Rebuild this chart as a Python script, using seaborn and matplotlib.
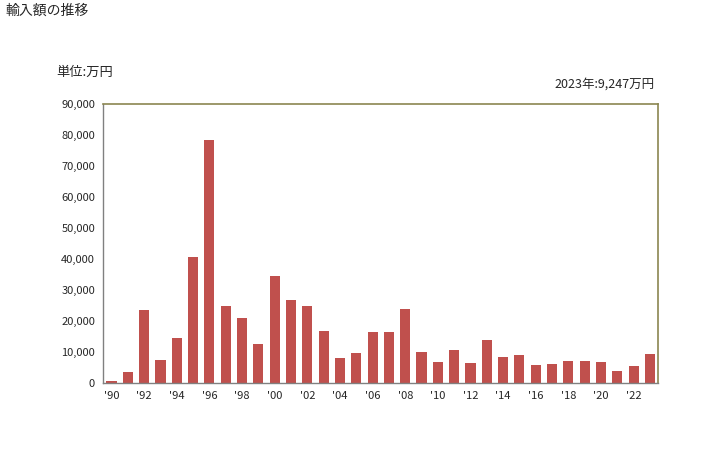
import matplotlib
matplotlib.use("Agg")
import matplotlib.pyplot as plt
import seaborn as sns
import pandas as pd

years = list(range(1990, 2024))
values = [500, 3600, 23600, 7500, 14600, 40700, 78500, 24900, 21000, 12600,
          34600, 26800, 24900, 16800, 8100, 9700, 16500, 16500, 23900, 10000,
          6800, 10700, 6500, 13900, 8400, 9000, 5800, 6100, 7100, 7100,
          6800, 3900, 5500, 9247]
title = "輸入額の推移"
unit_label = "単位:万円"
latest_label = "2023年:9,247万円"
yticks = list(range(0, 90001, 10000))

sns.set_theme(style="white")
plt.rcParams['font.family'] = ['Noto Sans CJK JP', 'DejaVu Sans']

df = pd.DataFrame({"year": [str(y) for y in years], "value": values})

fig = plt.figure(figsize=(7.28, 4.5), dpi=100)
ax = fig.add_axes([0.142, 0.149, 0.762, 0.619])
sns.barplot(data=df, x="year", y="value", color="#C0504D", width=0.62,
            saturation=1, ax=ax, linewidth=0)

ax.set_ylim(0, 90000)
ax.set_xlim(-0.5, len(years) - 0.5)
ax.set_yticks(yticks)
ax.set_yticklabels([f"{v:,}" for v in yticks], fontsize=8)
ax.set_xticks(range(0, len(years), 2))
ax.set_xticklabels([f"'{str(y)[2:]}" for y in years[::2]], fontsize=8)
ax.set_xlabel("")
ax.set_ylabel("")
ax.tick_params(axis="y", length=4, color="#808080", pad=2)
ax.tick_params(axis="x", length=0, pad=6)

for s in ["left", "bottom"]:
    ax.spines[s].set_color("#808080")
    ax.spines[s].set_linewidth(1.0)
for s in ["top", "right"]:
    ax.spines[s].set_color("#8B8650")
    ax.spines[s].set_linewidth(1.2)

fig.text(5 / 728, 1 - 11 / 450, title, fontsize=10, va="center", ha="left")
fig.text(56 / 728, 1 - 72 / 450, unit_label, fontsize=9.5, va="center", ha="left")
fig.text(655 / 728, 1 - 84 / 450, latest_label, fontsize=9, va="center", ha="right")

fig.savefig("out.png", dpi=100)
